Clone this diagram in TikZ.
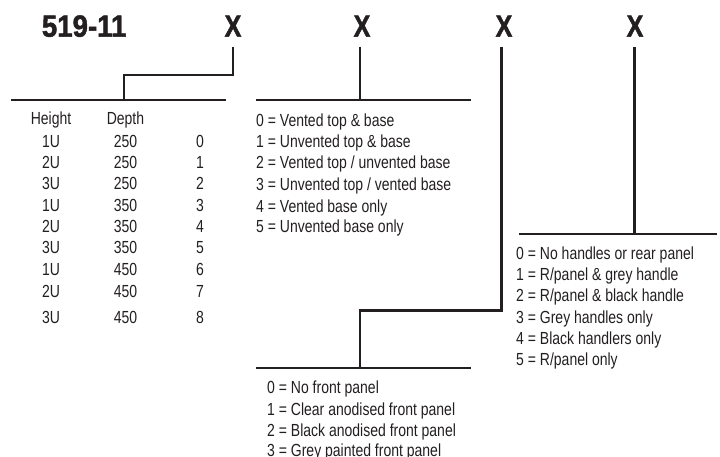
\documentclass[tikz,border=0pt]{standalone}
\usepackage{fontspec}
\setmainfont{Liberation Sans}[FakeStretch=0.8]
\newfontfamily\titlefont{Liberation Sans}[FakeStretch=0.9,BoldFeatures={FakeBold=1.5}]
\newfontfamily\xfont{Liberation Sans}[FakeStretch=0.82,BoldFeatures={FakeBold=1.5}]
\definecolor{ink}{RGB}{35,31,32}
\tikzset{
  bar/.style={line width=2.6pt, draw=ink},
  lbl/.style={inner sep=0pt, anchor=base west, text=ink, font=\fontsize{17.5}{21}\selectfont},
  cell/.style={inner sep=0pt, anchor=base, text=ink, font=\fontsize{17.5}{21}\selectfont},
  bigx/.style={inner sep=0pt, anchor=base, text=ink, font=\xfont\bfseries\fontsize{30.7}{34}\selectfont},
}
\begin{document}
\begin{tikzpicture}[x=1pt,y=-1pt]
\useasboundingbox (0,0) rectangle (720,457);
% header
\node[inner sep=0pt, anchor=base west, text=ink, font=\titlefont\bfseries\fontsize{30.7}{34}\selectfont] (code) at (41.7,36.7) {519-11};
\node[bigx] (x1) at (233,36.7) {X};
\node[bigx] (x2) at (362,36.7) {X};
\node[bigx] (x3) at (504,36.7) {X};
\node[bigx] (x4) at (635,36.7) {X};
% bars
\coordinate (b1l) at (11,100);   \coordinate (b1r) at (226,100);
\coordinate (b2l) at (256,100);  \coordinate (b2r) at (471,100);
\coordinate (b3l) at (256,368);  \coordinate (b3r) at (471,368);
\coordinate (b4l) at (519,234);  \coordinate (b4r) at (717,234);
\coordinate (j1) at (124,100);
\coordinate (j2) at (360,100);
\coordinate (j3) at (360,368);
\coordinate (j4) at (634.5,234);
\draw[bar] (b1l) -- (b1r);
\draw[bar] (b2l) -- (b2r);
\draw[bar] (b3l) -- (b3r);
\draw[bar] (b4l) -- (b4r);
% connectors
\draw[bar] (233,46.7) -- (233,75) -| (j1);
\draw[bar] (360,46.7) -- (j2);
\draw[bar] (501.5,46.7) -- (501.5,310.5) -| (j3);
\draw[bar] (634.5,46.7) -- (j4);
% table
\node[cell] (th) at (51,125) {Height};
\node[cell] (td) at (125.5,125) {Depth};
\foreach \h/\d/\n/\y in {1U/250/0/148, 2U/250/1/169, 3U/250/2/190, 1U/350/3/211.7, 2U/350/4/233, 3U/350/5/254, 1U/450/6/275.5, 2U/450/7/297, 3U/450/8/323.5}{
  \node[cell] (h\n) at (51,\y) {\h};
  \node[cell] (d\n) at (125.5,\y) {\d};
  \node[cell] (n\n) at (200,\y) {\n};
}
% vent list
\node[lbl] (v0) at (256,127) {0 = Vented top \& base};
\node[lbl] (v1) at (256,148) {1 = Unvented top \& base};
\node[lbl] (v2) at (256,169) {2 = Vented top / unvented base};
\node[lbl] (v3) at (256,190.5) {3 = Unvented top / vented base};
\node[lbl] (v4) at (256,212) {4 = Vented base only};
\node[lbl] (v5) at (256,233) {5 = Unvented base only};
% handles list
\node[lbl] (r0) at (516,259) {0 = No handles or rear panel};
\node[lbl] (r1) at (516,280) {1 = R/panel \& grey handle};
\node[lbl] (r2) at (516,301.5) {2 = R/panel \& black handle};
\node[lbl] (r3) at (516,323) {3 = Grey handles only};
\node[lbl] (r4) at (516,344) {4 = Black handlers only};
\node[lbl] (r5) at (516,365.5) {5 = R/panel only};
% front panel list
\node[lbl] (f0) at (267,393) {0 = No front panel};
\node[lbl] (f1) at (267,415) {1 = Clear anodised front panel};
\node[lbl] (f2) at (267,436.5) {2 = Black anodised front panel};
\node[lbl] (f3) at (267,456.5) {3 = Grey painted front panel};
\end{tikzpicture}
\end{document}
